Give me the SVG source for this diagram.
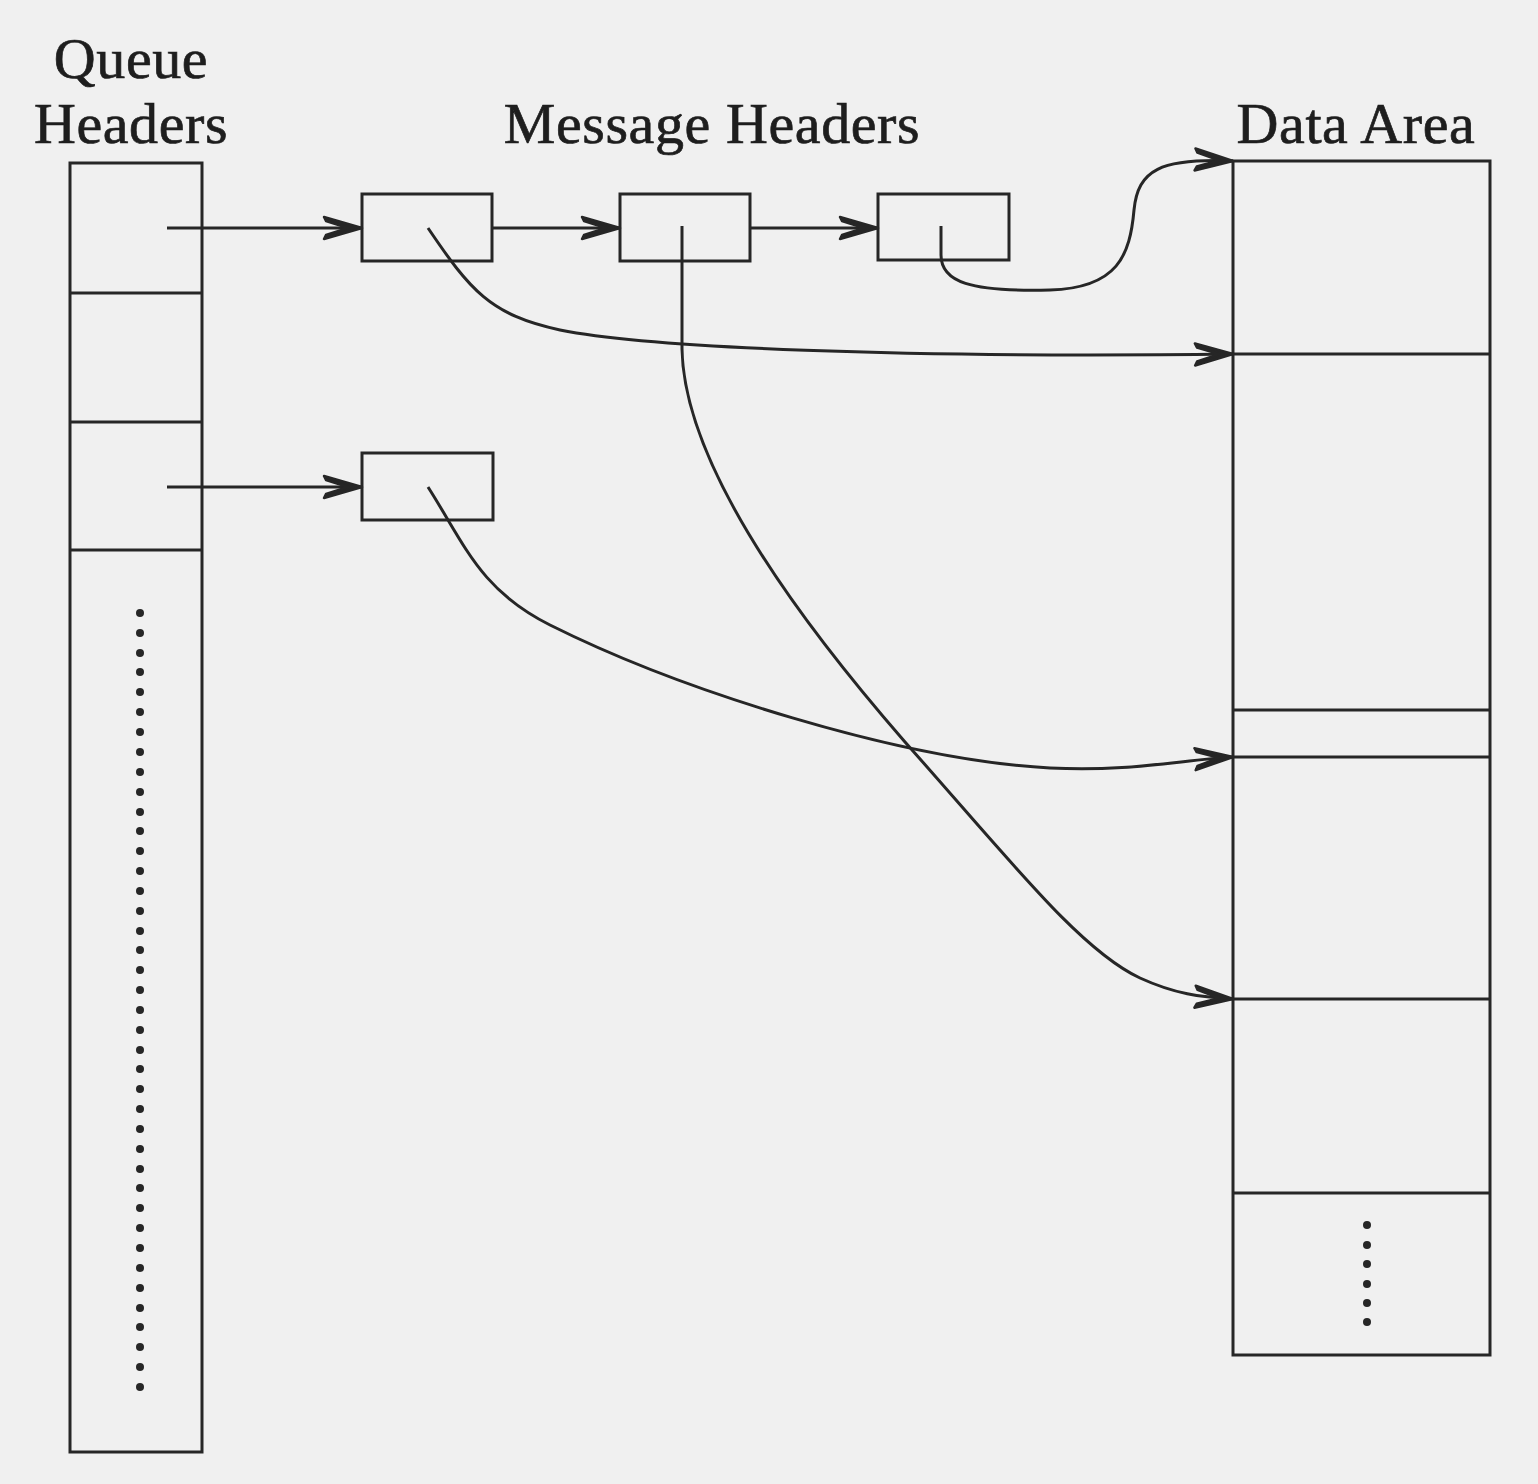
<svg xmlns="http://www.w3.org/2000/svg" width="1538" height="1484" viewBox="0 0 1538 1484">
<style>
.box{fill:none;stroke:#262626;stroke-width:3}
.ln{fill:none;stroke:#262626;stroke-width:3}
.conn{fill:none;stroke:#262626;stroke-width:3}
.lbl{font-family:"Liberation Serif","Times New Roman",serif;font-size:58px;fill:#1e1e1e;stroke:#1e1e1e;stroke-width:0.7;text-anchor:middle;letter-spacing:0.6px}
.dot{fill:#262626}
</style>
<defs>
<marker id="ah" markerUnits="userSpaceOnUse" markerWidth="50" markerHeight="30" viewBox="-42 -15 46 30" refX="0" refY="0" orient="auto">
<path d="M0,0 L-38,-11 L-36,-7 L-14,0 L-36,7 L-38,11 Z" fill="#262626" stroke="#262626" stroke-width="2.5" stroke-linejoin="round"/>
</marker>
</defs>
<rect width="1538" height="1484" fill="#f0f0f0"/>

<g id="labels">
<text class="lbl" x="131" y="78">Queue</text>
<text class="lbl" x="131" y="143">Headers</text>
<text class="lbl" x="712" y="143">Message Headers</text>
<text class="lbl" x="1356" y="143">Data Area</text>
</g>

<g id="queue-headers">
<rect class="box" x="70" y="163" width="132" height="1289"/>
<line class="ln" x1="70" y1="293" x2="202" y2="293"/>
<line class="ln" x1="70" y1="422" x2="202" y2="422"/>
<line class="ln" x1="70" y1="550" x2="202" y2="550"/>
<g id="queue-dots">
<circle class="dot" cx="140" cy="613" r="4"/><circle class="dot" cx="140" cy="633" r="4"/><circle class="dot" cx="140" cy="653" r="4"/><circle class="dot" cx="140" cy="672" r="4"/><circle class="dot" cx="140" cy="692" r="4"/><circle class="dot" cx="140" cy="712" r="4"/><circle class="dot" cx="140" cy="732" r="4"/><circle class="dot" cx="140" cy="752" r="4"/><circle class="dot" cx="140" cy="772" r="4"/><circle class="dot" cx="140" cy="792" r="4"/><circle class="dot" cx="140" cy="812" r="4"/><circle class="dot" cx="140" cy="831" r="4"/><circle class="dot" cx="140" cy="851" r="4"/><circle class="dot" cx="140" cy="871" r="4"/><circle class="dot" cx="140" cy="891" r="4"/><circle class="dot" cx="140" cy="911" r="4"/><circle class="dot" cx="140" cy="931" r="4"/><circle class="dot" cx="140" cy="950" r="4"/><circle class="dot" cx="140" cy="970" r="4"/><circle class="dot" cx="140" cy="990" r="4"/><circle class="dot" cx="140" cy="1010" r="4"/><circle class="dot" cx="140" cy="1030" r="4"/><circle class="dot" cx="140" cy="1050" r="4"/><circle class="dot" cx="140" cy="1069" r="4"/><circle class="dot" cx="140" cy="1089" r="4"/><circle class="dot" cx="140" cy="1109" r="4"/><circle class="dot" cx="140" cy="1129" r="4"/><circle class="dot" cx="140" cy="1149" r="4"/><circle class="dot" cx="140" cy="1169" r="4"/><circle class="dot" cx="140" cy="1188" r="4"/><circle class="dot" cx="140" cy="1208" r="4"/><circle class="dot" cx="140" cy="1228" r="4"/><circle class="dot" cx="140" cy="1248" r="4"/><circle class="dot" cx="140" cy="1268" r="4"/><circle class="dot" cx="140" cy="1288" r="4"/><circle class="dot" cx="140" cy="1308" r="4"/><circle class="dot" cx="140" cy="1327" r="4"/><circle class="dot" cx="140" cy="1347" r="4"/><circle class="dot" cx="140" cy="1367" r="4"/><circle class="dot" cx="140" cy="1387" r="4"/>
</g>
</g>

<g id="msg1"><rect class="box" x="362" y="194" width="130" height="67"/></g>
<g id="msg2"><rect class="box" x="620" y="194" width="130" height="67"/></g>
<g id="msg3"><rect class="box" x="878" y="194" width="131" height="66"/></g>
<g id="msg4"><rect class="box" x="362" y="453" width="131" height="67"/></g>

<g id="data-area">
<rect class="box" x="1233" y="161" width="257" height="1194"/>
<line class="ln" x1="1233" y1="354" x2="1490" y2="354"/>
<line class="ln" x1="1233" y1="710" x2="1490" y2="710"/>
<line class="ln" x1="1233" y1="757" x2="1490" y2="757"/>
<line class="ln" x1="1233" y1="999" x2="1490" y2="999"/>
<line class="ln" x1="1233" y1="1193" x2="1490" y2="1193"/>
<g id="data-dots">
<circle class="dot" cx="1367" cy="1225" r="4"/><circle class="dot" cx="1367" cy="1245" r="4"/><circle class="dot" cx="1367" cy="1264" r="4"/><circle class="dot" cx="1367" cy="1284" r="4"/><circle class="dot" cx="1367" cy="1303" r="4"/><circle class="dot" cx="1367" cy="1322" r="4"/>
</g>
</g>

<g id="connectors">
<line class="conn" x1="167" y1="228" x2="362" y2="228" marker-end="url(#ah)"/>
<line class="conn" x1="492" y1="228" x2="620" y2="228" marker-end="url(#ah)"/>
<line class="conn" x1="750" y1="228" x2="878" y2="228" marker-end="url(#ah)"/>
<line class="conn" x1="167" y1="487" x2="362" y2="487" marker-end="url(#ah)"/>
<path class="conn" d="M941,226 L941,255 C941,282 970,292 1050,290 C1118,288 1130,255 1134,210 C1138,170 1160,158 1233,161" marker-end="url(#ah)"/>
<path class="conn" d="M428,228 C470,290 490,315 560,330 C650,348 900,358 1233,354" marker-end="url(#ah)"/>
<path class="conn" d="M682,226 L682,349 C684,460 790,610 905,742 C1010,860 1080,950 1140,978 C1175,994 1200,997 1233,999" marker-end="url(#ah)"/>
<path class="conn" d="M428,487 C465,545 480,590 550,625 C680,690 900,760 1050,768 C1130,772 1180,760 1233,757" marker-end="url(#ah)"/>
</g>
</svg>
